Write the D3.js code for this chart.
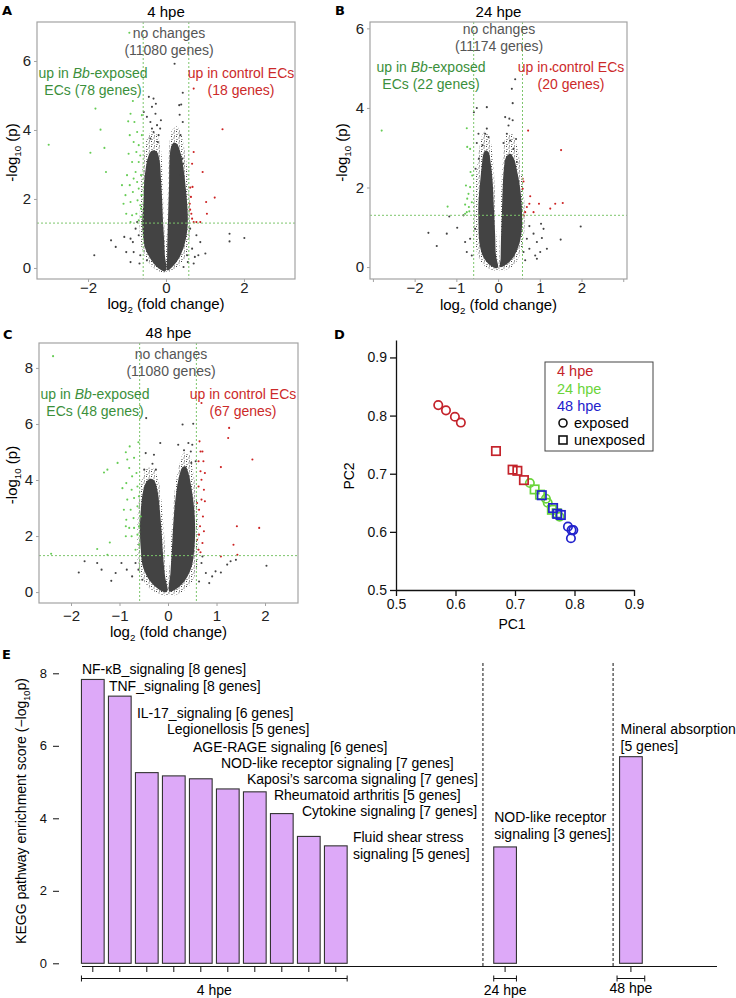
<!DOCTYPE html>
<html>
<head>
<meta charset="utf-8">
<script src="https://cdn.jsdelivr.net/npm/d3@7"></script>
<style>
    body { margin: 0; background: #fff; }
    svg { font-family: "Liberation Sans", Arial, sans-serif; }
</style>
</head>
<body>
<svg id="fig" width="736" height="998"></svg>
<script>
//Volcano A (4 hpe) : [log2 fold change, -log10 p]
const cloudA = [
    [[-0.03,-0.10],[-0.23,0.03],[-0.40,0.27],[-0.53,0.56],[-0.59,0.95],[-0.61,1.33],[-0.59,1.72],[-0.57,2.11],[-0.56,2.49],[-0.52,2.88],[-0.47,3.17],[-0.40,3.36],[-0.32,3.41],[-0.23,3.36],[-0.16,3.07],[-0.13,2.59],[-0.10,2.01],[-0.08,1.43],[-0.05,0.85],[-0.03,0.37],[0.01,-0.02]],
    [[0.04,-0.07],[0.20,0.08],[0.35,0.32],[0.47,0.66],[0.54,1.04],[0.56,1.43],[0.54,1.91],[0.50,2.40],[0.45,2.88],[0.38,3.31],[0.28,3.60],[0.20,3.63],[0.13,3.51],[0.09,3.07],[0.08,2.49],[0.06,1.72],[0.04,0.95],[0.03,0.37]]
];
const haloA = [
    [[0.0,-0.12],[-0.30,-0.02],[-0.50,0.25],[-0.64,0.65],[-0.68,1.2],[-0.66,1.9],[-0.63,2.6],[-0.58,3.2],[-0.50,3.7],[-0.38,3.95],[-0.25,3.9],[-0.14,3.5],[-0.09,2.8],[-0.06,1.8],[-0.03,0.8]],
    [[0.03,-0.10],[0.30,0.02],[0.50,0.30],[0.60,0.80],[0.63,1.40],[0.60,2.10],[0.55,2.80],[0.48,3.40],[0.40,3.85],[0.28,4.10],[0.16,4.00],[0.08,3.50],[0.05,2.50],[0.03,1.20]]
];
const greyA = [[0.22,5.92],[0.43,5.08],[0.39,4.74],[0.34,4.72],[0.35,4.44],[0.43,4.23],[0.37,3.85],[-0.44,4.96],[-0.32,4.91],[-0.26,4.76],[-0.36,4.67],[-0.57,4.52],[-0.49,4.38],[-0.13,4.28],[-0.40,4.23],[-0.23,4.14],[-0.32,3.94],[-0.19,3.85],[-0.40,3.75],[-0.21,3.65],[-0.27,4.47],[-0.36,4.04],[-0.15,4.04],[0.28,3.46],[0.32,3.27],[0.42,3.17],[0.44,3.02],[0.38,2.69],[-1.84,0.37],[-1.41,0.80],[-1.29,0.61],[-1.07,0.90],[-1.02,0.46],[-0.91,0.85],[-0.85,0.75],[-0.78,1.14],[-0.74,1.33],[-0.70,0.95],[-0.83,0.46],[-0.66,0.37],[-0.49,0.22],[-0.68,0.13],[0.62,1.14],[0.78,0.95],[0.88,0.75],[0.67,0.56],[1.01,0.42],[0.74,0.32],[1.63,0.99],[1.63,0.77],[2.01,0.87],[0.56,0.17],[0.83,0.37],[0.54,0.37],[0.71,0.13],[0.45,0.03],[-0.91,0.17]];
const upA = [[-3.01,3.57],[-1.81,4.62],[-1.68,4.01],[-1.94,3.34],[-1.58,3.48],[-1.54,2.78],[-0.85,4.84],[-0.91,4.47],[-0.97,4.25],[-0.81,4.23],[-0.74,3.94],[-0.93,3.85],[-0.83,3.65],[-0.70,3.56],[-0.96,3.31],[-0.76,3.36],[-0.87,3.07],[-0.70,3.07],[-0.78,2.78],[-1.00,2.69],[-0.83,2.59],[-1.13,2.40],[-0.93,2.40],[-0.74,2.49],[-1.04,2.11],[-0.85,2.20],[-0.70,2.30],[-1.09,1.86],[-0.91,1.91],[-0.73,1.96],[-0.66,1.82],[-1.02,1.57],[-0.87,1.53],[-0.76,1.57],[-0.64,1.48],[-0.91,1.33],[-0.70,1.38],[-0.64,1.72],[-0.66,3.26],[-0.64,2.69],[-0.63,2.11],[-0.62,4.43],[-0.62,3.85],[-0.94,6.82]];
const downA = [[0.71,5.20],[1.45,4.02],[0.71,3.36],[0.67,3.02],[0.94,2.78],[0.62,2.33],[0.68,2.35],[1.25,2.04],[1.03,1.91],[0.62,1.69],[1.05,1.57],[0.65,1.57],[0.71,1.33],[0.78,1.33],[0.67,1.43],[0.88,1.33],[0.61,1.86],[0.64,2.06]];

//Volcano B (24 hpe)
const cloudB = [
    [[-0.03,-0.03],[-0.23,0.08],[-0.37,0.29],[-0.45,0.63],[-0.47,1.13],[-0.47,1.63],[-0.43,2.14],[-0.39,2.55],[-0.35,2.85],[-0.29,2.93],[-0.23,2.89],[-0.18,2.64],[-0.13,2.14],[-0.10,1.47],[-0.07,0.80],[-0.05,0.29],[0,0]],
    [[0.05,0],[0.21,0.08],[0.37,0.25],[0.51,0.59],[0.57,0.96],[0.57,1.47],[0.53,1.97],[0.46,2.39],[0.38,2.72],[0.29,2.85],[0.19,2.76],[0.14,2.47],[0.11,1.97],[0.09,1.30],[0.07,0.71],[0.06,0.21]]
];
const haloB = [
    [[0.0,-0.08],[-0.30,0.0],[-0.47,0.25],[-0.55,0.7],[-0.57,1.3],[-0.55,2.0],[-0.50,2.6],[-0.43,3.1],[-0.33,3.4],[-0.22,3.3],[-0.13,2.8],[-0.08,2.0],[-0.05,1.0],[-0.02,0.3]],
    [[0.03,-0.08],[0.32,0.0],[0.52,0.3],[0.62,0.8],[0.64,1.4],[0.60,2.0],[0.53,2.6],[0.45,3.05],[0.33,3.35],[0.20,3.3],[0.12,2.8],[0.08,2.0],[0.05,1.0],[0.03,0.3]]
];
const greyB = [[0.41,4.72],[0.33,4.48],[0.35,4.12],[-0.51,4.00],[-0.27,4.02],[-0.58,3.89],[0.17,3.77],[0.27,3.73],[0.35,3.69],[0.25,3.56],[-0.27,3.48],[-0.31,3.35],[-0.23,3.27],[-0.47,3.35],[-0.51,3.12],[-0.37,3.06],[0.21,3.35],[0.29,3.18],[0.43,3.22],[0.13,3.12],[0.37,2.97],[-0.46,2.72],[-0.54,2.47],[0.19,2.55],[0.45,2.64],[-1.67,0.86],[-1.47,0.53],[-1.23,0.84],[-1.17,1.27],[-0.98,0.99],[-0.83,1.30],[-0.79,0.63],[-0.75,0.38],[-0.67,0.71],[-0.63,0.29],[-0.55,0.96],[0.75,1.03],[0.85,0.84],[0.93,0.63],[1.03,1.09],[1.09,0.96],[1.05,0.73],[1.17,0.46],[0.75,0.46],[0.89,0.29],[0.69,0.71],[0.61,0.38],[1.01,0.38],[1.50,0.69],[1.98,1.02],[0.93,0.21],[0.65,0.17]];
const upB = [[-2.79,3.43],[-0.75,3.49],[-0.74,3.02],[-0.67,2.97],[-0.66,2.39],[-0.77,2.05],[-0.71,1.84],[-0.74,1.72],[-0.67,2.01],[-0.79,1.57],[-0.70,1.51],[-1.21,1.52],[-0.75,1.38],[-0.69,1.40],[-0.79,1.34],[-0.63,1.63],[-0.62,2.30]];
const downB = [[0.72,3.43],[1.51,2.94],[0.59,2.22],[0.61,2.15],[0.59,1.97],[0.77,1.78],[0.75,1.59],[0.98,1.59],[0.69,1.51],[1.37,1.59],[1.55,1.61],[1.25,1.47],[0.85,1.38],[0.65,1.38],[0.61,1.30],[1.26,4.97]];

//Volcano C (48 hpe)
const cloudC = [
    [[-0.05,-0.01],[-0.22,0.14],[-0.39,0.44],[-0.52,0.92],[-0.56,1.51],[-0.58,2.23],[-0.56,2.94],[-0.52,3.54],[-0.46,3.89],[-0.38,4.04],[-0.29,3.99],[-0.22,3.65],[-0.17,2.94],[-0.13,2.11],[-0.10,1.27],[-0.06,0.56],[-0.01,0.06]],
    [[0.03,0.02],[0.19,0.14],[0.36,0.44],[0.49,0.92],[0.54,1.51],[0.56,2.23],[0.54,2.94],[0.49,3.65],[0.42,4.25],[0.36,4.49],[0.30,4.46],[0.23,4.13],[0.16,3.42],[0.11,2.46],[0.08,1.51],[0.05,0.68]]
];
const haloC = [
    [[0.0,-0.1],[-0.32,0.05],[-0.52,0.45],[-0.62,1.0],[-0.64,1.8],[-0.63,2.6],[-0.60,3.4],[-0.54,4.0],[-0.44,4.4],[-0.32,4.45],[-0.20,4.0],[-0.12,3.0],[-0.07,1.8],[-0.03,0.7]],
    [[0.03,-0.1],[0.33,0.05],[0.52,0.45],[0.61,1.0],[0.63,1.8],[0.62,2.6],[0.58,3.5],[0.52,4.3],[0.44,4.9],[0.34,5.0],[0.24,4.6],[0.15,3.8],[0.09,2.6],[0.05,1.3]]
];
const greyC = [[0.30,5.98],[0.52,6.01],[-0.45,6.21],[-0.16,5.32],[0.21,5.26],[0.33,5.06],[0.47,5.02],[0.50,5.26],[-0.29,4.90],[-0.46,4.96],[0.57,4.67],[-0.25,4.37],[-0.49,4.37],[-0.32,4.58],[0.42,5.32],[0.48,4.61],[-1.84,0.70],[-1.72,1.10],[-1.46,1.04],[-1.37,0.80],[-1.17,0.40],[-1.08,0.68],[-0.96,1.04],[-0.85,0.80],[-0.74,0.56],[-0.67,1.04],[-0.61,0.80],[-0.53,0.44],[0.69,1.04],[0.78,0.68],[0.91,0.56],[0.98,0.74],[1.09,0.70],[1.22,0.98],[1.29,1.10],[1.40,1.15],[2.03,0.94],[0.85,0.32],[0.64,0.38],[0.71,1.27]];
const upC = [[-2.37,8.42],[-1.32,4.27],[-1.25,4.37],[-1.04,4.61],[-0.87,4.99],[-0.79,5.20],[-0.61,5.35],[-0.84,4.73],[-0.80,4.43],[-0.70,4.79],[-0.74,4.13],[-0.65,4.25],[-0.86,3.89],[-0.75,3.65],[-0.63,3.77],[-0.84,3.30],[-0.70,3.36],[-0.91,2.94],[-0.77,2.94],[-0.63,3.06],[-0.86,2.58],[-0.71,2.64],[-0.87,2.35],[-0.80,2.29],[-0.70,2.29],[-0.60,2.35],[-0.87,1.99],[-0.75,1.99],[-0.63,2.05],[-1.20,1.77],[-1.46,1.54],[-1.25,1.33],[-2.41,1.37],[-0.60,1.69],[-0.67,1.51],[-0.94,3.71],[-0.60,3.42],[-0.56,2.70]];
const downC = [[1.26,5.86],[1.24,5.50],[1.74,4.73],[1.09,4.46],[0.69,6.75],[0.65,5.38],[0.67,5.02],[0.71,5.02],[0.63,4.67],[0.73,4.67],[0.67,4.31],[0.76,4.25],[0.69,4.01],[0.63,3.77],[0.74,3.65],[0.69,3.30],[0.76,3.24],[0.64,2.94],[0.72,2.70],[0.66,2.35],[0.74,2.17],[0.64,2.05],[0.71,1.75],[0.63,1.51],[0.67,1.42],[1.42,2.35],[1.88,2.29],[1.35,1.69],[1.43,1.33],[1.09,1.27],[0.60,1.87],[0.60,3.18]];

const volcanoTitles = ['4 hpe', '24 hpe', '48 hpe'];
const unchangedCounts = [11080, 11174, 11080];
const upCounts = [78, 22, 48];
const downCounts = [18, 20, 67];

//PCA (PC1, PC2)
const pc4Exp = [[0.571,0.818],[0.584,0.809],[0.599,0.798],[0.609,0.788]];
const pc4Unexp = [[0.668,0.739],[0.696,0.707],[0.704,0.705],[0.715,0.689]];
const pc24Exp = [[0.725,0.684],[0.752,0.657],[0.755,0.650],[0.775,0.626]];
const pc24Unexp = [[0.733,0.673],[0.742,0.664],[0.762,0.638],[0.770,0.632]];
const pc48Exp = [[0.789,0.609],[0.795,0.603],[0.798,0.603],[0.794,0.589]];
const pc48Unexp = [[0.745,0.663],[0.764,0.641],[0.771,0.631],[0.777,0.629]];
const pcTicks = [0.5, 0.6, 0.7, 0.8, 0.9];

//KEGG
const kegg4Labels = [
    ['NF-\u03baB_signaling [8 genes]'], ['TNF_signaling [8 genes]'], ['IL-17_signaling [6 genes]'],
    ['Legionellosis [5 genes]'], ['AGE-RAGE signaling [6 genes]'], ['NOD-like receptor signaling [7 genes]'],
    ['Kaposi\u2019s sarcoma signaling [7 genes]'], ['Rheumatoid arthritis [5 genes]'], ['Cytokine signaling [7 genes]'],
    ['Fluid shear stress', 'signaling [5 genes]']
];
const kegg4Scores = [7.83, 7.37, 5.26, 5.17, 5.09, 4.81, 4.73, 4.13, 3.50, 3.24];
const kegg24Labels = [['NOD-like receptor', 'signaling [3 genes]']];
const kegg24Scores = [3.21];
const kegg48Labels = [['Mineral absorption', '[5 genes]']];
const kegg48Scores = [5.70];
const keggTicks = [0, 2, 4, 6, 8];

const svg = d3.select('#fig');
svg.append('rect').attr('width', 736).attr('height', 998).attr('fill', '#fff');

const
    colGrey = '#434343',
    colUp = '#66cc55',
    colDown = '#cc2222',
    txtUp = '#3b8f3b',
    txtDown = '#cc2a2a',
    threshold = '#7cc56b';

//speckle texture for the sparse rim of the point clouds
const pat = svg.append('defs').append('pattern').attr('id', 'speckle')
    .attr('patternUnits', 'userSpaceOnUse').attr('width', 5).attr('height', 5);
[[1, 1], [3.5, 2.5], [1.5, 4], [4, 0.5]].forEach(p => pat.append('rect')
    .attr('x', p[0]).attr('y', p[1]).attr('width', 1).attr('height', 1).attr('fill', colGrey));

//panel letters
[['A', 2, 15], ['B', 335, 15], ['C', 3, 339], ['D', 334, 339], ['E', 2, 659]].forEach(p => {
    svg.append('text').attr('x', p[1]).attr('y', p[2]).text(p[0])
        .attr('font-weight', 'bold').attr('font-size', 13).attr('font-family', 'DejaVu Sans');
});

function subText(g, parts, size) {
    // parts: [text, sub, text]
    g.append('tspan').text(parts[0]);
    g.append('tspan').text(parts[1]).attr('font-size', size * 0.65).attr('dy', 4);
    g.append('tspan').text(parts[2]).attr('dy', -4);
}

function volcano(i, box, xDom, yDom, xTicks, yTicks, cloud, halo, grey, up, down, txt) {
    const g = svg.append('g');
    const x = d3.scaleLinear().domain(xDom).range([box.l, box.r]);
    const y = d3.scaleLinear().domain(yDom).range([box.b, box.t]);

    const cloudLine = d3.line().x(d => x(d[0])).y(d => y(d[1])).curve(d3.curveCatmullRomClosed);
    g.selectAll('path.halo').data(halo).join('path')
        .attr('d', cloudLine).attr('fill', 'url(#speckle)');
    g.selectAll('path.cloud').data(cloud).join('path')
        .attr('d', cloudLine).attr('fill', colGrey);

    const dots = (arr, col) => g.append('g').selectAll('circle').data(arr).join('circle')
        .attr('cx', d => x(d[0])).attr('cy', d => y(d[1])).attr('r', 1.05).attr('fill', col);
    dots(grey, colGrey);
    dots(up, colUp);
    dots(down, colDown);

    //thresholds: |log2FC| = log2(1.5), p = 0.05
    const fc = Math.log2(1.5), pc = -Math.log10(0.05);
    [-fc, fc].forEach(v => g.append('line')
        .attr('x1', x(v)).attr('x2', x(v)).attr('y1', box.t).attr('y2', box.b)
        .attr('stroke', threshold).attr('stroke-dasharray', '2,2'));
    g.append('line').attr('x1', box.l).attr('x2', box.r).attr('y1', y(pc)).attr('y2', y(pc))
        .attr('stroke', threshold).attr('stroke-dasharray', '2,2');

    g.append('rect').attr('x', box.l).attr('y', box.t).attr('width', box.r - box.l).attr('height', box.b - box.t)
        .attr('fill', 'none').attr('stroke', '#a3a3a3').attr('stroke-width', 1.2);

    const xa = g.append('g').attr('transform', `translate(0,${box.b})`)
        .call(d3.axisBottom(x).tickValues(xTicks).tickSize(3).tickPadding(txt.xp)
            .tickFormat(d => Math.abs(d) > 2.5 ? '' : d3.format('d')(d)));
    const ya = g.append('g').attr('transform', `translate(${box.l},0)`)
        .call(d3.axisLeft(y).tickValues(yTicks).tickSize(3).tickPadding(3).tickFormat(d3.format('d')));
    [xa, ya].forEach(a => {
        a.select('.domain').remove();
        a.selectAll('line').attr('stroke', '#a3a3a3');
        a.selectAll('text').attr('font-size', 15).attr('fill', '#222').attr('font-family', 'Liberation Sans');
    });

    const cx = (box.l + box.r) / 2;
    g.append('text').attr('x', cx).attr('y', box.t - 5).attr('text-anchor', 'middle')
        .attr('font-size', 15).text(volcanoTitles[i]);
    subText(g.append('text').attr('x', cx).attr('y', box.b + txt.xl).attr('text-anchor', 'middle').attr('font-size', 15),
        ['log', '2', ' (fold change)'], 15);
    subText(g.append('text').attr('transform', `translate(${txt.yl},${(box.t + box.b) / 2 + 2}) rotate(-90)`)
        .attr('text-anchor', 'middle').attr('font-size', 15), ['-log', '10', ' (p)'], 15);

    //annotations
    const ann = (xc, yb, lines, col) => lines.forEach((l, k) => {
        const t = g.append('text').attr('x', xc).attr('y', yb + k * 16.5).attr('text-anchor', 'middle')
            .attr('font-size', 14).attr('fill', col);
        if (Array.isArray(l)) l.forEach(s => t.append('tspan').text(s[0]).attr('font-style', s[1] ? 'italic' : null));
        else t.text(l);
    });
    ann(txt.nx, txt.ny, ['no changes', `(${unchangedCounts[i]} genes)`], '#555');
    ann(txt.ux, txt.uy, [[['up in ', 0], ['Bb', 1], ['-exposed', 0]], `ECs (${upCounts[i]} genes)`], txtUp);
    ann(txt.dx, txt.uy, ['up in control ECs', `(${downCounts[i]} genes)`], txtDown);
}

volcano(0, {l: 37, r: 295, t: 22, b: 279}, [-3.31, 3.31], [-0.32, 7.13], [-2, 0, 2], [0, 2, 4, 6],
    cloudA, haloA, greyA, upA, downA, {yl: 17, nx: 169, ny: 38, ux: 93, uy: 78, dx: 241, xp: 0, xl: 30});
volcano(1, {l: 370, r: 627, t: 22, b: 279}, [-3.07, 3.09], [-0.30, 6.16], [-3, -2, -1, 0, 1, 2, 3], [0, 2, 4, 6],
    cloudB, haloB, greyB, upB, downB, {yl: 347, nx: 499, ny: 34, ux: 431, uy: 72, dx: 571, xp: 0, xl: 31});
volcano(2, {l: 39, r: 298, t: 343, b: 603}, [-2.66, 2.68], [-0.39, 8.89], [-2, -1, 0, 1, 2], [0, 2, 4, 6, 8],
    cloudC, haloC, greyC, upC, downC, {yl: 17, nx: 171, ny: 359, ux: 95, uy: 399, dx: 243, xp: 4, xl: 34});

//PCA panel
{
    const g = svg.append('g');
    const x = d3.scaleLinear().domain([0.5, 0.9]).range([396, 634]);
    const y = d3.scaleLinear().domain([0.5, 0.93]).range([590, 340]);
    const xa = g.append('g').attr('transform', 'translate(0,590)')
        .call(d3.axisBottom(x).tickValues(pcTicks).tickSize(6).tickSizeOuter(0).tickFormat(d3.format('.1f')));
    const ya = g.append('g').attr('transform', 'translate(396,0)')
        .call(d3.axisLeft(y).tickValues(pcTicks).tickSize(6).tickSizeOuter(0).tickPadding(3).tickFormat(d3.format('.1f')));
    [xa, ya].forEach(a => {
        a.selectAll('path,line').attr('stroke', '#111').attr('stroke-width', 1.3);
        a.selectAll('text').attr('font-size', 14).attr('fill', '#111').attr('font-family', 'Liberation Sans');
    });
    g.append('text').attr('x', 512).attr('y', 629).attr('text-anchor', 'middle').attr('font-size', 14).text('PC1');
    g.append('text').attr('transform', 'translate(354,476) rotate(-90)').attr('text-anchor', 'middle')
        .attr('font-size', 14).text('PC2');

    const cols = {r: '#c4232b', g: '#6ad43a', b: '#2222cc'};
    const circles = (arr, col) => g.append('g').selectAll('circle').data(arr).join('circle')
        .attr('cx', d => x(d[0])).attr('cy', d => y(d[1])).attr('r', 4.2)
        .attr('fill', 'none').attr('stroke', col).attr('stroke-width', 1.7);
    const squares = (arr, col) => g.append('g').selectAll('rect').data(arr).join('rect')
        .attr('x', d => x(d[0]) - 4.2).attr('y', d => y(d[1]) - 4.2).attr('width', 8.4).attr('height', 8.4)
        .attr('fill', 'none').attr('stroke', col).attr('stroke-width', 1.7);
    circles(pc4Exp, cols.r);
    circles(pc24Exp, cols.g);
    squares(pc24Unexp, cols.g);
    squares(pc4Unexp, cols.r);
    circles(pc48Exp, cols.b);
    squares(pc48Unexp, cols.b);

    //legend
    const lg = g.append('g');
    lg.append('rect').attr('x', 545).attr('y', 362).attr('width', 108).attr('height', 89)
        .attr('fill', '#fff').attr('stroke', '#444');
    [['4 hpe', cols.r], ['24 hpe', cols.g], ['48 hpe', cols.b]].forEach((d, k) =>
        lg.append('text').attr('x', 557).attr('y', 376 + k * 17.5).attr('font-size', 14.5).attr('fill', d[1]).text(d[0]));
    lg.append('circle').attr('cx', 563).attr('cy', 423).attr('r', 4).attr('fill', 'none').attr('stroke', '#111').attr('stroke-width', 1.6);
    lg.append('rect').attr('x', 559).attr('y', 436).attr('width', 8).attr('height', 8).attr('fill', 'none').attr('stroke', '#111').attr('stroke-width', 1.6);
    lg.append('text').attr('x', 574).attr('y', 428).attr('font-size', 14.5).text('exposed');
    lg.append('text').attr('x', 574).attr('y', 445).attr('font-size', 14.5).text('unexposed');
}

//KEGG panel
{
    const g = svg.append('g');
    const y = d3.scaleLinear().domain([0, 8]).range([963.3, 673.3]);
    const slot = d3.scaleLinear().domain([0, 1]).range([92.8, 119.8]);
    const bw = 22.7;
    const groups = [
        {name: '4 hpe', start: 0, labels: kegg4Labels, scores: kegg4Scores},
        {name: '24 hpe', start: 15.27, labels: kegg24Labels, scores: kegg24Scores},
        {name: '48 hpe', start: 19.93, labels: kegg48Labels, scores: kegg48Scores}
    ];
    const bars = groups.flatMap(gr => gr.scores.map((s, k) => ({score: s, label: gr.labels[k], pos: gr.start + k, grp: gr.name})));

    //label baselines (px) for the stacked annotations
    const labelY = [674, 691, 718, 734, 752, 768, 784, 800, 816, 842, 822, 734];
    const labelDx = [0.5, 0.5, 1.5, 4.5, 3.5, 4.5, 3.5, 3.5, 4.5, 28.5, 0.5, 1];

    //dashed separators
    [14.45, 19.27].forEach(s => g.append('line')
        .attr('x1', slot(s)).attr('x2', slot(s)).attr('y1', 663).attr('y2', 966)
        .attr('stroke', '#111').attr('stroke-dasharray', '3,2'));

    g.selectAll('rect.bar').data(bars).join('rect')
        .attr('x', d => slot(d.pos) - bw / 2).attr('width', bw)
        .attr('y', d => y(d.score)).attr('height', d => y(0) - y(d.score))
        .attr('fill', '#dda9f8').attr('stroke', '#333').attr('stroke-width', 1.1);

    bars.forEach((d, k) => {
        const t = g.append('text').attr('x', slot(d.pos) - bw / 2 + labelDx[k]).attr('y', labelY[k]).attr('font-size', 14);
        d.label.forEach((l, j) => t.append('tspan').attr('x', slot(d.pos) - bw / 2 + labelDx[k]).attr('dy', j ? 16.5 : 0).text(l));
    });

    const ya = g.append('g').attr('transform', 'translate(59,0)')
        .call(d3.axisLeft(y).tickValues(keggTicks).tickSize(6).tickPadding(6));
    ya.select('.domain').remove();
    ya.selectAll('line').attr('stroke', '#111');
    ya.selectAll('text').attr('font-size', 13).attr('font-family', 'Liberation Sans').attr('fill', '#111');

    subText(g.append('text').attr('transform', 'translate(26,811) rotate(-90)').attr('text-anchor', 'middle').attr('font-size', 14),
        ['KEGG pathway enrichment score (\u2212log', '10', 'p)'], 14);

    //baseline and ticks
    g.append('line').attr('x1', 82).attr('x2', 717).attr('y1', 966.5).attr('y2', 966.5).attr('stroke', '#111').attr('stroke-width', 1.2);
    g.selectAll('line.tk').data(bars).join('line')
        .attr('x1', d => slot(d.pos)).attr('x2', d => slot(d.pos)).attr('y1', 966.5).attr('y2', 972)
        .attr('stroke', '#111');

    //group brackets
    groups.forEach((gr, k) => {
        const pad = k === 2 ? 2.5 : 0;
        const x0 = slot(gr.start) - bw / 2 - pad, x1 = slot(gr.start + gr.scores.length - 1) + bw / 2 + pad;
        const by = 978.5;
        g.append('path').attr('d', `M${x0},${by - 3}V${by + 3}M${x0},${by}H${x1}M${x1},${by - 3}V${by + 3}`)
            .attr('stroke', '#111').attr('fill', 'none');
        g.append('text').attr('x', (x0 + x1) / 2).attr('y', k === 2 ? 993 : 995).attr('text-anchor', 'middle')
            .attr('font-size', 14).text(gr.name);
    });
}
</script>
</body>
</html>
